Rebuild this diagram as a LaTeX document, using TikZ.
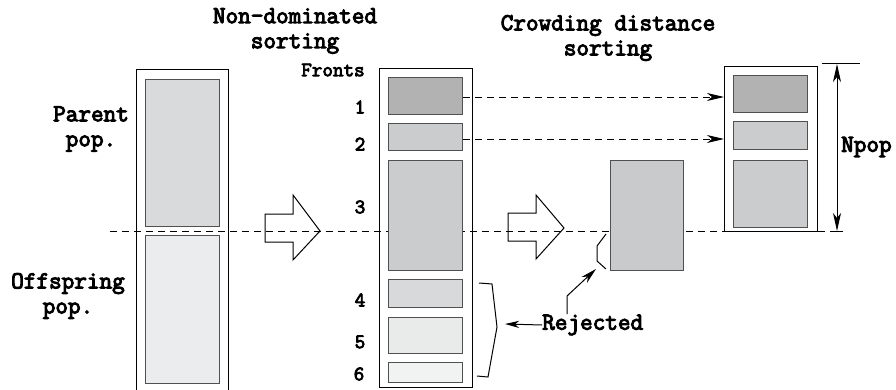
\documentclass[tikz,border=0pt]{standalone}
\usepackage{fontspec}
\newfontfamily\courb{Latin Modern Mono}[FakeBold=4]
\usetikzlibrary{arrows.meta}
\definecolor{parentc}{HTML}{D9DADC}
\definecolor{offc}{HTML}{EBECED}
\definecolor{fa}{HTML}{B2B2B3}
\definecolor{fb}{HTML}{CBCCCD}
\definecolor{fd}{HTML}{D8D9DA}
\definecolor{fe}{HTML}{E9EAEA}
\definecolor{ff}{HTML}{F1F2F2}
\definecolor{sc}{HTML}{C9CACC}
\definecolor{edgec}{HTML}{505050}
\begin{document}
\begin{tikzpicture}[x=1pt,y=-1pt,
  outerbox/.style={draw=black, line width=1.2pt, inner sep=0pt, anchor=north west},
  innerbox/.style={draw=edgec, line width=1pt, inner sep=0pt, anchor=north west},
  lbl/.style={font=\fontsize{24.5}{25}\selectfont\courb, align=center, inner sep=0pt},
  small/.style={font=\fontsize{20.5}{20}\selectfont\courb, inner sep=0pt},
  dash line/.style={line width=0.9pt, dash pattern=on 6.5pt off 5.5pt},
  tip/.style={-{Stealth[length=17pt,width=8pt,inset=5pt]}},
  bigarrow/.style={draw=black, line width=1pt, line join=miter}]
\useasboundingbox (0,0) rectangle (896,390);
\clip (0,0) rectangle (896,390);
% outer boxes
\node[outerbox, minimum width=92pt, minimum height=325pt] (lout) at (136,69) {};
\node[outerbox, minimum width=93pt, minimum height=319pt] (mout) at (379,68) {};
\node[outerbox, minimum width=93pt, minimum height=165pt] (rout) at (724,66) {};
% dashed horizontal line
\coordinate (dl0) at (110,231);
\coordinate (dl1) at (842,231);
\draw[dash line] (dl0) -- (dl1);
% left inner boxes
\node[innerbox, fill=parentc, minimum width=74pt, minimum height=147pt] (parent) at (145,79) {};
\node[innerbox, fill=offc, minimum width=74pt, minimum height=148pt] (offspring) at (145,235) {};
% fronts
\node[innerbox, fill=fa, minimum width=74pt, minimum height=37pt] (f1) at (388,77) {};
\node[innerbox, fill=fb, minimum width=74pt, minimum height=27pt] (f2) at (388,123) {};
\node[innerbox, fill=fb, minimum width=74pt, minimum height=110pt] (f3) at (388,160) {};
\node[innerbox, fill=fd, minimum width=74pt, minimum height=28pt] (f4) at (388,279) {};
\node[innerbox, fill=fe, minimum width=74pt, minimum height=36pt] (f5) at (388,317) {};
\node[innerbox, fill=ff, minimum width=74pt, minimum height=20pt] (f6) at (388,362) {};
% standalone front 3
\node[innerbox, fill=sc, minimum width=73pt, minimum height=110pt] (s3) at (610,160) {};
% right boxes
\node[innerbox, fill=fa, minimum width=74pt, minimum height=37pt] (r1) at (733,75) {};
\node[innerbox, fill=fb, minimum width=74pt, minimum height=28pt] (r2) at (733,121) {};
\node[innerbox, fill=fb, minimum width=74pt, minimum height=67pt] (r3) at (733,160) {};
% titles
\node[lbl] (t1) at (295,31) {Non-dominated\\sorting};
\node[lbl] (t2) at (608,38) {Crowding distance\\sorting};
\node[lbl] (par) at (91,129) {Parent\\pop.};
\node[lbl] (off) at (68,296) {Offspring\\pop.};
\node[small] (fr) at (333,70) {Fronts};
\node[small] (n1) at (360,107) {1};
\node[small] (n2) at (360,144) {2};
\node[small] (n3) at (360,207) {3};
\node[small] (n4) at (360,300) {4};
\node[small] (n5) at (360,342) {5};
\node[small] (n6) at (359,374) {6};
% big hollow arrows
\draw[bigarrow] (265,214) -- (293,214) -- (293,195) -- (320,231) -- (293,260) -- (293,242) -- (265,242) -- cycle;
\draw[bigarrow] (508,213) -- (536,213) -- (536,195) -- (564,228) -- (536,259) -- (536,241) -- (508,241) -- cycle;
% dashed arrows
\coordinate (a1s) at (463,97);
\coordinate (a1e) at (724,97);
\coordinate (a2s) at (463,139);
\coordinate (a2e) at (724,139);
\draw[dash line, tip] (a1s) -- (a1e);
\draw[dash line, tip] (a2s) -- (a2e);
% Npop dimension
\coordinate (np0) at (822,64);
\coordinate (np1) at (860,64);
\coordinate (nt) at (837,64);
\coordinate (nb) at (837,231);
\draw[line width=1pt] (np0) -- (np1);
\draw[line width=1pt, {Stealth[length=18pt,width=8pt,inset=5pt]}-{Stealth[length=18pt,width=8pt,inset=5pt]}] (nt) -- (nb);
\draw[line width=1pt] (831,231) -- (843,231);
\node[lbl, anchor=west] (npop) at (841,147) {Npop};
% rejected brackets
\coordinate (b1) at (479,283);
\coordinate (b2) at (492,284);
\coordinate (b3) at (497,327);
\coordinate (b4) at (488,377);
\coordinate (b5) at (477,376);
\draw[line width=1pt] (b1) -- (b2) -- (b3) -- (b4) -- (b5);
\coordinate (c1) at (606,234);
\coordinate (c2) at (597,246);
\coordinate (c3) at (597,261);
\coordinate (c4) at (606,269);
\draw[line width=1pt] (c1) -- (c2) -- (c3) -- (c4);
\node[lbl, anchor=west] (rej) at (542,325) {Rejected};
\coordinate (rb) at (505,324);
\coordinate (rs) at (596,269);
\coordinate (rk) at (567,296);
\draw[line width=1pt, -{Stealth[length=14pt,width=7pt,inset=4pt]}] (rej.west) -- (rb);
\draw[line width=1pt, -{Stealth[length=16pt,width=8pt,inset=5pt]}] (567,314) -- (rk) -- (rs);
\end{tikzpicture}
\end{document}
